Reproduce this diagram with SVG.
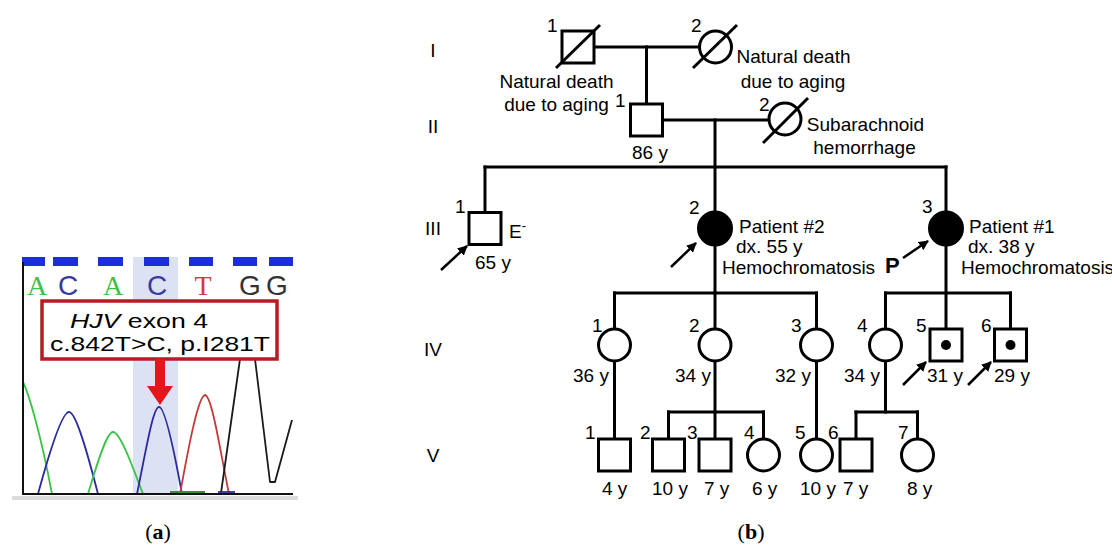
<svg xmlns="http://www.w3.org/2000/svg" width="1112" height="548" viewBox="0 0 1112 548">
<defs>
<marker id="ah" markerUnits="userSpaceOnUse" markerWidth="10" markerHeight="10" viewBox="0 0 10 10" refX="9" refY="5" orient="auto">
<path d="M0,0 L10,5 L0,10 z" fill="#000"/>
</marker>
<style>
.ln{stroke:#000;stroke-width:3;fill:none;stroke-linecap:square}
.sym{stroke:#000;stroke-width:3;fill:#fff}
.aff{stroke:#000;stroke-width:3;fill:#000}
.sl{stroke:#000;stroke-width:3}
.arr{stroke:#000;stroke-width:2.5;marker-end:url(#ah)}
.t{font-family:"Liberation Sans",Arial,sans-serif;font-size:19px;fill:#000}
.g{font-family:"Liberation Sans",Arial,sans-serif;font-size:19px;fill:#000;text-anchor:middle}
.m{text-anchor:middle}
.cap{font-family:"Liberation Serif","Times New Roman",serif;font-size:22px;fill:#000;text-anchor:middle}
.tr{fill:none;stroke-width:1.8;stroke-linejoin:round}
.bar{fill:#1c2fd6}
</style>
</defs>
<rect width="1112" height="548" fill="#fff"/>

<!-- Panel (a) chromatogram -->
<g id="panel-a">
<rect x="133" y="257" width="45" height="238" fill="#dde1f4"/>
<rect class="bar" x="22" y="257" width="23" height="9"/>
<rect class="bar" x="53" y="257" width="25" height="9"/>
<rect class="bar" x="98" y="257" width="25" height="9"/>
<rect class="bar" x="144" y="257" width="25" height="9"/>
<rect class="bar" x="189" y="257" width="24" height="9"/>
<rect class="bar" x="233" y="257" width="24" height="9"/>
<rect class="bar" x="269" y="257" width="24" height="9"/>
<g font-size="28" text-anchor="middle">
<text x="37" y="295" font-family="Liberation Serif, serif" fill="#3cc24a">A</text>
<text x="68" y="295" font-family="Liberation Sans, sans-serif" fill="#3a3aa0">C</text>
<text x="113" y="295" font-family="Liberation Serif, serif" fill="#3cc24a">A</text>
<text x="157" y="295" font-family="Liberation Sans, sans-serif" fill="#3a3aa0">C</text>
<text x="203" y="295" font-family="Liberation Serif, serif" fill="#d03a3a">T</text>
<text x="250" y="295" font-family="Liberation Sans, sans-serif" fill="#333">G</text>
<text x="277" y="295" font-family="Liberation Sans, sans-serif" fill="#333">G</text>
</g>
<path class="tr" stroke="#3cc24a" d="M23,382 C28,392 40,430 52,494"/>
<path class="tr" stroke="#2c2c9c" d="M38,494 C50,450 62,412 69,412 C76,412 88,455 98,494"/>
<path class="tr" stroke="#3cc24a" d="M88,494 C98,460 107,432 113,432 C120,432 132,465 143,494"/>
<path class="tr" stroke="#2c2c9c" d="M137,494 C146,450 153,407 159,407 C165,407 174,450 182,494"/>
<path class="tr" stroke="#c43a3a" d="M180,494 C188,450 198,396 205,395 C212,396 220,450 229,494"/>
<path class="tr" stroke="#1a1a1a" d="M221,493 L240,359 L245,330 L252,330 L255,359 L270,482 L275,482 L292,420"/>
<path class="tr" stroke="#3a8a3a" d="M170,492 L205,492"/>
<path class="tr" stroke="#2c2c9c" d="M218,492 L235,492"/>
<path d="M23,262 L23,494 L293,494" fill="none" stroke="#111" stroke-width="2"/>
<rect x="12" y="496" width="286" height="4" fill="#dcdcdc"/>
<rect x="42" y="301" width="235" height="58" fill="#fff" stroke="#b11f24" stroke-width="3.5"/>
<text x="70" y="328" font-family="Liberation Sans, Arial, sans-serif" font-size="21" textLength="138" lengthAdjust="spacingAndGlyphs"><tspan font-style="italic">HJV</tspan> exon 4</text>
<text x="50" y="351" font-family="Liberation Sans, Arial, sans-serif" font-size="21" textLength="220" lengthAdjust="spacingAndGlyphs">c.842T&gt;C, p.I281T</text>
<rect x="155" y="359" width="10" height="28" fill="#e5151b"/>
<polygon points="147,386 173,386 160,405" fill="#e5151b"/>
</g>
<text class="cap" x="158" y="539">(<tspan font-weight="bold">a</tspan>)</text>
<text class="cap" x="751" y="539">(<tspan font-weight="bold">b</tspan>)</text>

<!-- Generation labels -->
<g id="gen-labels">
<text class="g" x="433" y="57">I</text>
<text class="g" x="433" y="133">II</text>
<text class="g" x="433" y="235">III</text>
<text class="g" x="433" y="356">IV</text>
<text class="g" x="433" y="462">V</text>
</g>

<!-- Connectors -->
<g id="connectors">
<path class="ln" d="M594,47 H699"/>
<path class="ln" d="M646.5,47 V104"/>
<path class="ln" d="M662.5,120 H769"/>
<path class="ln" d="M715,120 V212"/>
<path class="ln" d="M485,167 H946"/>
<path class="ln" d="M485,167 V212.5"/>
<path class="ln" d="M946,167 V212"/>
<path class="ln" d="M715,245 V293"/>
<path class="ln" d="M614.5,293 H816.5"/>
<path class="ln" d="M614.5,293 V329"/>
<path class="ln" d="M715,293 V329"/>
<path class="ln" d="M816.5,293 V329"/>
<path class="ln" d="M946,245 V329"/>
<path class="ln" d="M885.5,293 H1010.5"/>
<path class="ln" d="M885.5,293 V329"/>
<path class="ln" d="M1010.5,293 V329"/>
<path class="ln" d="M614.5,361 V439"/>
<path class="ln" d="M715,361 V412"/>
<path class="ln" d="M668.5,412 H763.5"/>
<path class="ln" d="M668.5,412 V439"/>
<path class="ln" d="M715,412 V439"/>
<path class="ln" d="M763.5,412 V439"/>
<path class="ln" d="M816.5,361 V439"/>
<path class="ln" d="M885.5,361 V412"/>
<path class="ln" d="M856,412 H917.5"/>
<path class="ln" d="M856,412 V439"/>
<path class="ln" d="M917.5,412 V439"/>
<line class="arr" x1="441" y1="270" x2="467" y2="246"/>
<line class="arr" x1="671" y1="267" x2="696" y2="243"/>
<line class="arr" x1="903" y1="258" x2="928" y2="241"/>
<line class="arr" x1="903" y1="385" x2="926" y2="362"/>
<line class="arr" x1="968" y1="385" x2="991" y2="362"/>
</g>

<!-- Generation I -->
<g id="I-1">
<rect class="sym" x="562" y="31" width="32" height="32"/>
<line class="sl" x1="556" y1="68" x2="600" y2="25"/>
<text class="t" x="547" y="32">1</text>
<text class="t m" x="556.5" y="88">Natural death</text>
<text class="t m" x="556.5" y="111">due to aging</text>
</g>
<g id="I-2">
<circle class="sym" cx="715.5" cy="47" r="16"/>
<line class="sl" x1="693" y1="68" x2="737" y2="25"/>
<text class="t" x="691" y="32">2</text>
<text class="t m" x="793.5" y="63">Natural death</text>
<text class="t m" x="793" y="88">due to aging</text>
</g>

<!-- Generation II -->
<g id="II-1">
<rect class="sym" x="630.5" y="104" width="32" height="32"/>
<text class="t" x="615" y="107">1</text>
<text class="t m" x="650" y="159">86 y</text>
</g>
<g id="II-2">
<circle class="sym" cx="785" cy="119" r="16"/>
<line class="sl" x1="763" y1="143" x2="808" y2="98"/>
<text class="t" x="759" y="111">2</text>
<text class="t m" x="865.5" y="131">Subarachnoid</text>
<text class="t m" x="864.5" y="154">hemorrhage</text>
</g>

<!-- Generation III -->
<g id="III-1">
<rect class="sym" x="469" y="212.5" width="32" height="32"/>
<text class="t" x="455" y="213">1</text>
<text class="t" x="509" y="238">E<tspan dy="-8" font-size="13">-</tspan></text>
<text class="t" x="475" y="269">65 y</text>
</g>
<g id="III-2">
<circle class="aff" cx="715" cy="228.5" r="16.5"/>
<text class="t" x="689" y="214">2</text>
<text class="t" x="739" y="233">Patient #2</text>
<text class="t" x="736" y="253">dx. 55 y</text>
<text class="t" x="722" y="274">Hemochromatosis</text>
</g>
<g id="III-3">
<circle class="aff" cx="946" cy="228.5" r="16.5"/>
<text class="t" x="922" y="213">3</text>
<text class="t" x="969" y="233">Patient #1</text>
<text class="t" x="968" y="253">dx. 38 y</text>
<text class="t" x="961" y="274" font-size="18">Hemochromatosis</text>
<text x="885" y="273" font-family="Liberation Sans, Arial, sans-serif" font-size="22" font-weight="bold">P</text>
</g>

<!-- Generation IV -->
<g id="IV-1">
<circle class="sym" cx="614.5" cy="345" r="16"/>
<text class="t" x="592" y="332">1</text>
<text class="t" x="573" y="382">36 y</text>
</g>
<g id="IV-2">
<circle class="sym" cx="715" cy="345" r="16"/>
<text class="t" x="689" y="332">2</text>
<text class="t" x="675" y="382">34 y</text>
</g>
<g id="IV-3">
<circle class="sym" cx="816.5" cy="345" r="16"/>
<text class="t" x="791" y="332">3</text>
<text class="t" x="775" y="382">32 y</text>
</g>
<g id="IV-4">
<circle class="sym" cx="885.5" cy="345" r="16"/>
<text class="t" x="857" y="332">4</text>
<text class="t" x="844" y="382">34 y</text>
</g>
<g id="IV-5">
<rect class="sym" x="930" y="329" width="32" height="32"/>
<circle cx="946" cy="345" r="5" fill="#000"/>
<text class="t" x="916" y="332">5</text>
<text class="t" x="927" y="382">31 y</text>
</g>
<g id="IV-6">
<rect class="sym" x="994.5" y="329" width="32" height="32"/>
<circle cx="1010.5" cy="345" r="5" fill="#000"/>
<text class="t" x="981" y="332">6</text>
<text class="t" x="994" y="382">29 y</text>
</g>

<!-- Generation V -->
<g id="V-1">
<rect class="sym" x="598.5" y="439" width="32" height="32"/>
<text class="t" x="585" y="439">1</text>
<text class="t" x="602" y="495">4 y</text>
</g>
<g id="V-2">
<rect class="sym" x="652.5" y="439" width="32" height="32"/>
<text class="t" x="640" y="439">2</text>
<text class="t" x="652" y="495">10 y</text>
</g>
<g id="V-3">
<rect class="sym" x="699" y="439" width="32" height="32"/>
<text class="t" x="687" y="439">3</text>
<text class="t" x="704" y="495">7 y</text>
</g>
<g id="V-4">
<circle class="sym" cx="763.5" cy="455" r="16"/>
<text class="t" x="744" y="439">4</text>
<text class="t" x="752" y="495">6 y</text>
</g>
<g id="V-5">
<circle class="sym" cx="816.5" cy="455" r="16"/>
<text class="t" x="795" y="439">5</text>
<text class="t" x="800" y="495">10 y</text>
</g>
<g id="V-6">
<rect class="sym" x="840" y="439" width="32" height="32"/>
<text class="t" x="828" y="439">6</text>
<text class="t" x="843" y="495">7 y</text>
</g>
<g id="V-7">
<circle class="sym" cx="917.5" cy="455" r="16"/>
<text class="t" x="898" y="439">7</text>
<text class="t" x="907" y="495">8 y</text>
</g>
</svg>
